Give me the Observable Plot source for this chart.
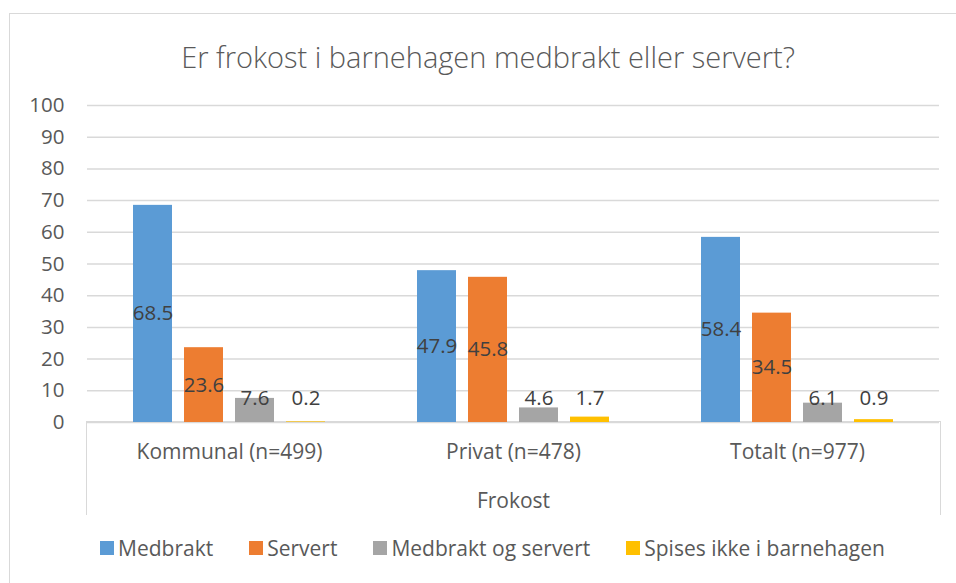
<!DOCTYPE html>
<html>
<head>
<meta charset="utf-8">
<script src="https://cdn.jsdelivr.net/npm/d3@7"></script>
<script src="https://cdn.jsdelivr.net/npm/@observablehq/plot@0.6"></script>
<style>
  html, body { margin: 0; padding: 0; background: #fff; }
  #wrap { position: relative; width: 956px; height: 583px; overflow: hidden; font-family: "Open Sans", Lato, sans-serif; color: #595959; }
  #border { position: absolute; left: 9px; top: 13px; width: 960px; height: 600px; border: 1.5px solid #d9d9d9; box-sizing: border-box; }
  #title { position: absolute; left: 0; width: 976px; top: 36px; line-height: 42px; text-align: center; font-size: 29px; font-weight: 300; color: #595959; }
  #chart { position: absolute; left: 0; top: 0; }
  #catbox { position: absolute; left: 86px; top: 421px; width: 855px; height: 94px; border: 1.5px solid #d9d9d9; border-bottom: none; box-sizing: border-box; }
  #legend { position: absolute; left: 100px; top: 534px; display: flex; align-items: center; font-size: 21px; color: #595959; line-height: 28px; }
  #legend .item { display: flex; align-items: center; margin-right: 36px; }
  #legend .sw { width: 14px; height: 14px; margin-right: 4px; }
</style>
</head>
<body>
<div id="wrap">
  <div id="border"></div>
  <div id="title">Er frokost i barnehagen medbrakt eller servert?</div>
  <div id="catbox"></div>
  <div id="chart"></div>
  <div id="legend"></div>
</div>
<script>
const groups = ["Kommunal (n=499)", "Privat (n=478)", "Totalt (n=977)"];
const series = ["Medbrakt", "Servert", "Medbrakt og servert", "Spises ikke i barnehagen"];
const colors = ["#5B9BD5", "#ED7D31", "#A5A5A5", "#FFC000"];
const medbrakt = [68.5, 47.9, 58.4];
const servert = [23.6, 45.8, 34.5];
const medbraktOgServert = [7.6, 4.6, 6.1];
const spisesIkke = [0.2, 1.7, 0.9];
const yTicks = [0, 10, 20, 30, 40, 50, 60, 70, 80, 90, 100];
const axisTitle = "Frokost";

const valuesBySeries = [medbrakt, servert, medbraktOgServert, spisesIkke];
const data = [];
groups.forEach((g, gi) => {
  series.forEach((s, si) => {
    data.push({group: g, series: s, value: valuesBySeries[si][gi]});
  });
});

const chart = Plot.plot({
  width: 956,
  height: 583,
  marginTop: 105,
  marginBottom: 161,
  marginLeft: 86,
  marginRight: 16,
  style: {fontFamily: "'Open Sans', Lato, sans-serif", fontSize: "20.5px", color: "#595959", background: "transparent"},
  fx: {domain: groups, padding: 0},
  x: {domain: series, paddingInner: 0.226, paddingOuter: 0.866, axis: null},
  y: {domain: [0, 100], axis: null},
  color: {domain: series, range: colors},
  marks: [
    Plot.gridY(yTicks, {stroke: "#d9d9d9", strokeOpacity: 1, strokeWidth: 1.5}),
    Plot.axisY(yTicks, {tickSize: 0, tickPadding: 23, fontSize: 20.5, anchor: "left", label: null}),
    Plot.barY(data, {fx: "group", x: "series", y: "value", fill: "series"}),
    Plot.text(data, {fx: "group", x: "series", y: d => Math.max(d.value / 2, 7.7), text: d => d.value.toFixed(1), fill: "#404040", fontSize: 20.5}),
    Plot.axisFx({anchor: "bottom", tickSize: 0, tickPadding: 22, fontSize: 21, label: axisTitle, labelAnchor: "center", labelOffset: 85})
  ]
});
document.getElementById("chart").appendChild(chart);

const legend = document.getElementById("legend");
series.forEach((s, i) => {
  const item = document.createElement("div");
  item.className = "item";
  const sw = document.createElement("div");
  sw.className = "sw";
  sw.style.background = colors[i];
  const t = document.createElement("span");
  t.textContent = s;
  item.appendChild(sw);
  item.appendChild(t);
  legend.appendChild(item);
});
</script>
</body>
</html>
